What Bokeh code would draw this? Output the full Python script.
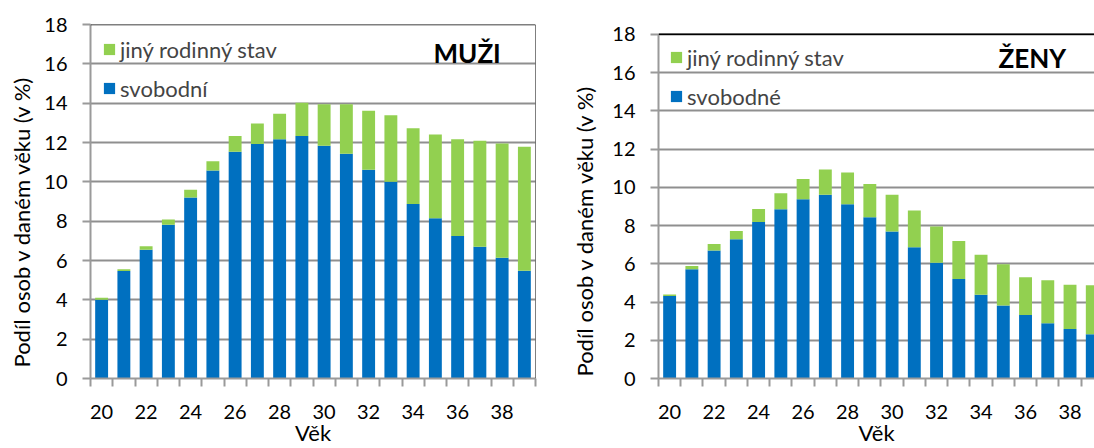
import math
from bokeh.plotting import figure
from bokeh.layouts import row
from bokeh.models import (ColumnDataSource, Range1d, FixedTicker, Span, Label,
                          Legend, LegendItem, Title)
from bokeh.embed import file_html
from bokeh.resources import INLINE

ages = list(range(20, 40))
muzi_svobodni = [4.00, 5.46, 6.55, 7.82, 9.20, 10.58, 11.53, 11.93, 12.17, 12.33,
                 11.84, 11.43, 10.62, 10.00, 8.87, 8.15, 7.25, 6.70, 6.14, 5.48]
muzi_jiny = [0.10, 0.10, 0.17, 0.26, 0.40, 0.47, 0.80, 1.04, 1.29, 1.69,
             2.11, 2.52, 3.00, 3.38, 3.86, 4.26, 4.92, 5.39, 5.81, 6.30]
zeny_svobodne = [4.32, 5.72, 6.70, 7.28, 8.19, 8.85, 9.37, 9.61, 9.11, 8.44,
                 7.69, 6.87, 6.05, 5.21, 4.38, 3.82, 3.32, 2.89, 2.59, 2.31]
zeny_jiny = [0.08, 0.17, 0.34, 0.43, 0.68, 0.84, 1.06, 1.32, 1.66, 1.73,
             1.92, 1.92, 1.90, 1.98, 2.09, 2.16, 1.97, 2.25, 2.31, 2.57]
y_ticks = [0, 2, 4, 6, 8, 10, 12, 14, 16, 18]
x_label_ticks = [20, 22, 24, 26, 28, 30, 32, 34, 36, 38]

BLUE = "#0070C0"
GREEN = "#92D050"
GRID = "#8f8f8f"
AXIS = "#9a9a9a"
FONT = "Lato"
YLABEL = "Podíl osob v daném věku (v %)"
H = 448
TOP = 24
BOTTOM = 65


def make_panel(blue_vals, green_vals, blue_label, title, width, x_end, y_end,
               mb_left, mb_right, right_border, ylab_offset, ylab_standoff,
               title_xy, legend_xy):
    src = ColumnDataSource(dict(age=ages, svob=blue_vals, jiny=green_vals))
    p = figure(width=width, height=H, x_range=Range1d(19.5, x_end),
               y_range=Range1d(0, y_end), output_backend="svg",
               toolbar_location=None, min_border_left=mb_left,
               min_border_right=mb_right, min_border_top=TOP,
               min_border_bottom=BOTTOM)
    p.outline_line_color = None
    p.background_fill_color = "white"
    p.border_fill_color = "white"

    rb, rg = p.vbar_stack(["svob", "jiny"], x="age", width=0.58,
                          color=[BLUE, GREEN], line_color=None, source=src)

    p.xgrid.visible = False
    p.ygrid.ticker = FixedTicker(ticks=y_ticks)
    p.ygrid.grid_line_color = GRID
    p.ygrid.grid_line_width = 2

    ya = p.yaxis[0]
    ya.ticker = FixedTicker(ticks=y_ticks)
    ya.bounds = (0, 18)
    ya.axis_line_color = AXIS
    ya.axis_line_width = 2
    ya.major_tick_line_color = AXIS
    ya.major_tick_line_width = 2
    ya.major_tick_out = 8
    ya.major_tick_in = 0
    ya.minor_tick_line_color = None
    ya.major_label_text_font = FONT
    ya.major_label_text_font_size = "20px"
    ya.major_label_text_color = "black"
    ya.major_label_standoff = 15

    xa = p.xaxis[0]
    xa.ticker = FixedTicker(ticks=x_label_ticks,
                            minor_ticks=[a - 0.5 for a in ages] + [39.5])
    xa.axis_line_color = AXIS
    xa.axis_line_width = 2
    xa.major_tick_line_color = None
    xa.major_tick_out = 0
    xa.major_tick_in = 0
    xa.minor_tick_line_color = AXIS
    xa.minor_tick_line_width = 2
    xa.minor_tick_out = 8
    xa.minor_tick_in = 0
    xa.major_label_text_font = FONT
    xa.major_label_text_font_size = "20px"
    xa.major_label_text_color = "black"
    xa.major_label_standoff = 18
    xa.axis_label = "Věk"
    xa.axis_label_text_font = FONT
    xa.axis_label_text_font_size = "22px"
    xa.axis_label_text_font_style = "normal"
    xa.axis_label_text_color = "black"
    xa.axis_label_standoff = -3

    p.add_layout(Span(location=18, dimension="width", line_color="black",
                      line_width=1.5))
    if right_border:
        p.add_layout(Span(location=39.5, dimension="height", line_color="black",
                          line_width=1))

    legend = Legend(items=[LegendItem(label="jiný rodinný stav", renderers=[rg]),
                           LegendItem(label=blue_label, renderers=[rb])],
                    location=legend_xy, margin=0, padding=0,
                    border_line_color=None, background_fill_alpha=0,
                    glyph_width=14, glyph_height=14, label_standoff=4,
                    label_height=28, label_text_baseline="alphabetic",
                    label_text_font=FONT, label_text_font_size="22px",
                    spacing=11)
    p.add_layout(legend)

    p.add_layout(Title(text=YLABEL, align="left", offset=ylab_offset,
                       standoff=ylab_standoff, vertical_align="middle",
                       text_font=FONT, text_font_size="22px",
                       text_font_style="normal", text_color="black"), "left")
    p.add_layout(Label(x=title_xy[0], y=title_xy[1], x_units="screen",
                       y_units="screen", text=title, text_font=FONT,
                       text_font_style="bold", text_font_size="26px",
                       text_baseline="alphabetic", text_color="black"))
    return p


p1 = make_panel(muzi_svobodni, muzi_jiny, "svobodní", "MUŽI", 558, 39.5, 18,
                85, 23, True, 11, 12, (343, 326), (12, 276))
p2 = make_panel(zeny_svobodne, zeny_jiny, "svobodné", "ŽENY", 536,
                19.5 + 441 / 22.5, 18 + 10 / 19.39, 95, 0, False, 2, 22,
                (340, 321), (11, 268))

layout = row(p1, p2)
open("out.html", "w").write(file_html(layout, INLINE))
